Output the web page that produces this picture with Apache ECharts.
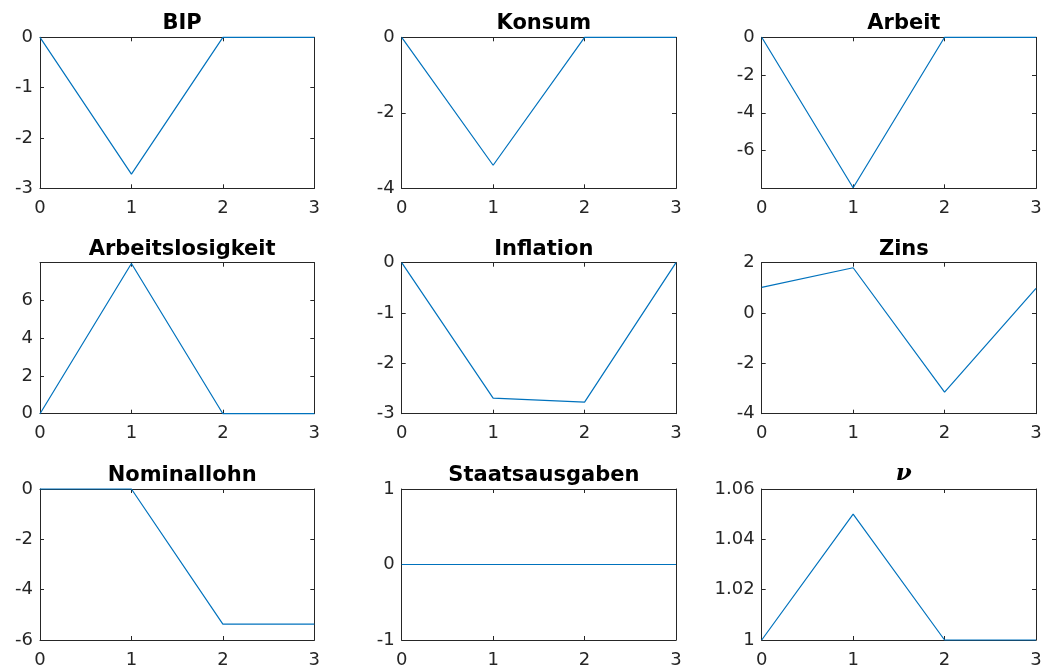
<!DOCTYPE html>
<html>
<head>
<meta charset="utf-8">
<script src="https://cdn.jsdelivr.net/npm/echarts@6/dist/echarts.min.js"></script>
<style>
html,body{margin:0;padding:0;background:#fff;}
#chart{width:1045px;height:670px;}
</style>
</head>
<body>
<div id="chart"></div>
<script>
// ---- data ----
const periods = [0, 1, 2, 3];
const titles = ['BIP', 'Konsum', 'Arbeit', 'Arbeitslosigkeit', 'Inflation', 'Zins', 'Nominallohn', 'Staatsausgaben', 'ν'];
const bip = [0, -2.72, 0, 0];
const konsum = [0, -3.39, 0, 0];
const arbeit = [0, -7.97, 0, 0];
const arbeitslosigkeit = [0, 7.96, 0, 0];
const inflation = [0, -2.69, -2.77, 0];
const zins = [1.02, 1.8, -3.14, 0.98];
const nominallohn = [0, 0, -5.37, -5.37];
const staatsausgaben = [0, 0, 0, 0];
const nu = [1, 1.05, 1, 1];
// y-axis tick specs
const yMins = [-3, -4, -8, 0, -3, -4, -6, -1, 1];
const yMaxs = [0, 0, 0, 8, 0, 2, 0, 1, 1.06];
const yIntervals = [1, 2, 2, 2, 1, 2, 2, 1, 0.02];
const hideMinLabel = [false, false, true, false, false, false, false, false, false];
const hideMaxLabel = [false, false, false, true, false, false, false, false, false];
const xTicks = [0, 1, 2, 3];

const seriesValues = [bip, konsum, arbeit, arbeitslosigkeit, inflation, zins, nominallohn, staatsausgaben, nu];

// ---- layout ----
const colLeft = [40, 401.7, 761.7];
const rowTop = [37.3, 262.7, 489];
const gw = 274.3, gh = 151;
const axisColor = '#262626';
const labelFont = {fontFamily: 'DejaVu Sans, sans-serif', fontSize: 18, color: axisColor};

const grids = [], xAxes = [], yAxes = [], series = [], titleArr = [];
for (let i = 0; i < 9; i++) {
  const r = Math.floor(i / 3), c = i % 3;
  grids.push({left: colLeft[c], top: rowTop[r], width: gw, height: gh, containLabel: false});
  const isNu = i === 8;
  titleArr.push({
    text: titles[i],
    left: colLeft[c] + gw / 2,
    textAlign: 'center',
    top: rowTop[r] - (isNu ? 31 : 29),
    textStyle: isNu
      ? {fontFamily: 'DejaVu Serif, serif', fontStyle: 'italic', fontWeight: 'bold', fontSize: 23, color: '#000'}
      : {fontFamily: 'DejaVu Sans, sans-serif', fontWeight: 'bold', fontSize: 21, color: '#000'}
  });
  const xCommon = {
    type: 'value', gridIndex: i, min: xTicks[0], max: xTicks[xTicks.length - 1], interval: 1,
    splitLine: {show: false},
    axisLine: {show: true, onZero: false, lineStyle: {color: axisColor, width: 1}},
    axisTick: {show: true, inside: true, length: 4, lineStyle: {color: axisColor}}
  };
  xAxes.push(Object.assign({}, xCommon, {position: 'bottom',
    axisLabel: Object.assign({show: true, margin: 11}, labelFont)}));
  xAxes.push(Object.assign({}, xCommon, {position: 'top', axisLabel: {show: false}}));
  const yCommon = {
    type: 'value', gridIndex: i, min: yMins[i], max: yMaxs[i], interval: yIntervals[i],
    splitLine: {show: false},
    axisLine: {show: true, onZero: false, lineStyle: {color: axisColor, width: 1}},
    axisTick: {show: true, inside: true, length: 4, lineStyle: {color: axisColor}}
  };
  yAxes.push(Object.assign({}, yCommon, {position: 'left',
    axisLabel: Object.assign({show: true, margin: 7, showMinLabel: !hideMinLabel[i], showMaxLabel: !hideMaxLabel[i],
      formatter: function (v) { return String(Math.round(v * 1000) / 1000); }}, labelFont)}));
  yAxes.push(Object.assign({}, yCommon, {position: 'right', axisLabel: {show: false}}));
  series.push({
    type: 'line', xAxisIndex: 2 * i, yAxisIndex: 2 * i,
    data: periods.map((p, k) => [p, seriesValues[i][k]]),
    symbol: 'none', silent: true, animation: false, clip: false, z: 5,
    lineStyle: {color: '#0072BD', width: 1.2}
  });
}

const chart = echarts.init(document.getElementById('chart'), null, {renderer: 'canvas'});
chart.setOption({
  backgroundColor: '#fff',
  animation: false,
  title: titleArr,
  grid: grids,
  xAxis: xAxes,
  yAxis: yAxes,
  series: series
});
</script>
</body>
</html>
